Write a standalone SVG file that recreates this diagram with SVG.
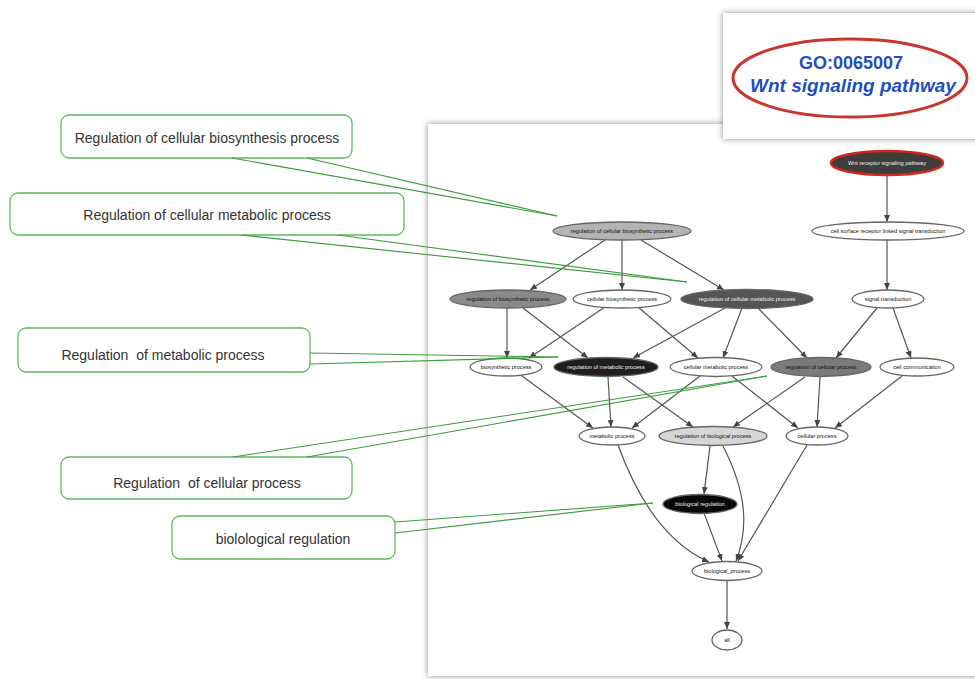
<svg xmlns="http://www.w3.org/2000/svg" width="975" height="679" viewBox="0 0 975 679">
<defs>
<filter id="shadow" x="-10%" y="-10%" width="120%" height="120%">
<feDropShadow dx="0" dy="0" stdDeviation="3" flood-color="#000" flood-opacity="0.45"/>
</filter>
<marker id="arr" markerUnits="userSpaceOnUse" markerWidth="7" markerHeight="6" refX="7" refY="3" orient="auto">
<path d="M0,0 L7,3 L0,6 z" fill="#444"/>
</marker>
<style>
.callout{fill:#fff;stroke:#62b862;stroke-width:1.3}
.tail{stroke:#3c9c3c;stroke-width:1.1;fill:none}
.ctext{font-family:"Liberation Sans",Arial,sans-serif;font-size:14px;fill:#333;text-anchor:middle;white-space:pre}
.edge{stroke:#555;stroke-width:1.2;fill:none;marker-end:url(#arr)}
.node{stroke:#666;stroke-width:1.3}
.ntext{font-family:"Liberation Sans",Arial,sans-serif;font-size:5.6px;text-anchor:middle}
.w{fill:#fff}
.dk{fill:#111}
.lt{fill:#eee}
</style>
</defs>
<rect x="0" y="0" width="975" height="679" fill="#fff"/>

<!-- main panel -->
<rect id="panel" x="428" y="124" width="560" height="552" fill="#fff" filter="url(#shadow)"/>

<!-- GO box -->
<g id="go-box">
<rect x="723" y="13" width="262" height="126" fill="#fff" filter="url(#shadow)"/>
<ellipse cx="850" cy="78" rx="117" ry="39" fill="#fff" stroke="#c8372d" stroke-width="3"/>
<text x="851" y="69" font-family="'Liberation Sans',Arial,sans-serif" font-size="18" font-weight="bold" fill="#1f4fbf" text-anchor="middle">GO:0065007</text>
<text x="853" y="92" font-family="'Liberation Sans',Arial,sans-serif" font-size="19" font-weight="bold" font-style="italic" fill="#1f4fbf" text-anchor="middle">Wnt signaling pathway</text>
</g>

<!-- connectors -->
<g id="connectors">
<line class="edge" x1="887" y1="175" x2="887" y2="222"/>
<line class="edge" x1="887" y1="240" x2="887" y2="290"/>
<line class="edge" x1="605" y1="240" x2="530" y2="290"/>
<line class="edge" x1="622" y1="240" x2="622" y2="290"/>
<line class="edge" x1="641" y1="240" x2="724" y2="290"/>
<line class="edge" x1="507" y1="308" x2="507" y2="358"/>
<line class="edge" x1="523" y1="308" x2="588" y2="358"/>
<line class="edge" x1="605" y1="307" x2="529" y2="358"/>
<line class="edge" x1="638" y1="307" x2="698" y2="358"/>
<line class="edge" x1="725" y1="308" x2="633" y2="358"/>
<line class="edge" x1="742" y1="308" x2="723" y2="358"/>
<line class="edge" x1="758" y1="308" x2="807" y2="358"/>
<line class="edge" x1="877" y1="308" x2="836" y2="358"/>
<line class="edge" x1="893" y1="308" x2="911" y2="358"/>
<line class="edge" x1="522" y1="376" x2="593" y2="428"/>
<line class="edge" x1="608" y1="377" x2="611" y2="427"/>
<line class="edge" x1="623" y1="377" x2="693" y2="427"/>
<line class="edge" x1="700" y1="376" x2="632" y2="428"/>
<line class="edge" x1="732" y1="376" x2="798" y2="428"/>
<line class="edge" x1="805" y1="377" x2="733" y2="427"/>
<line class="edge" x1="820" y1="377" x2="817" y2="427"/>
<line class="edge" x1="902" y1="376" x2="835" y2="428"/>
<line class="edge" x1="710" y1="446" x2="704" y2="494"/>
<path class="edge" d="M723,446 C748,495 748,530 736,561"/>
<path class="edge" d="M618,445 C640,505 670,545 709,562"/>
<line class="edge" x1="807" y1="445" x2="738" y2="561"/>
<line class="edge" x1="704" y1="513" x2="722" y2="561"/>
<line class="edge" x1="727" y1="581" x2="727" y2="629"/>
</g>

<!-- graph nodes -->
<g id="n-wnt"><ellipse cx="887" cy="163" rx="56" ry="12" fill="#3d3d3d" stroke="#d0281c" stroke-width="2.5"/><text class="ntext lt" x="887" y="165">Wnt receptor signaling pathway</text></g>
<g id="n-cell-surface"><ellipse class="node" cx="888" cy="231" rx="76" ry="9" fill="#fff"/><text class="ntext dk" x="888" y="233">cell surface receptor linked signal transduction</text></g>
<g id="n-signal"><ellipse class="node" cx="888" cy="299" rx="36" ry="9" fill="#fff"/><text class="ntext dk" x="888" y="301">signal transduction</text></g>
<g id="n-reg-cell-biosyn"><ellipse class="node" cx="622" cy="231" rx="69" ry="9" fill="#b4b4b4"/><text class="ntext dk" x="622" y="233">regulation of cellular biosynthetic process</text></g>
<g id="n-reg-biosyn"><ellipse class="node" cx="508" cy="299" rx="58" ry="9" fill="#8a8a8a"/><text class="ntext dk" x="508" y="301">regulation of biosynthetic process</text></g>
<g id="n-cell-biosyn"><ellipse class="node" cx="622" cy="299" rx="49" ry="9" fill="#fff"/><text class="ntext dk" x="622" y="301">cellular biosynthetic process</text></g>
<g id="n-reg-cell-metab"><ellipse class="node" cx="747" cy="299" rx="66" ry="9.5" fill="#555"/><text class="ntext lt" x="747" y="301">regulation of cellular metabolic process</text></g>
<g id="n-biosyn"><ellipse class="node" cx="506" cy="367" rx="36" ry="9" fill="#fff"/><text class="ntext dk" x="506" y="369">biosynthetic process</text></g>
<g id="n-reg-metab"><ellipse class="node" cx="606" cy="367" rx="52" ry="9.5" fill="#1e1e1e"/><text class="ntext lt" x="606" y="369">regulation of metabolic process</text></g>
<g id="n-cell-metab"><ellipse class="node" cx="716" cy="367" rx="46" ry="9.5" fill="#fff"/><text class="ntext dk" x="716" y="369">cellular metabolic process</text></g>
<g id="n-reg-cell-proc"><ellipse class="node" cx="821" cy="367" rx="50" ry="9.5" fill="#7a7a7a"/><text class="ntext dk" x="821" y="369">regulation of cellular process</text></g>
<g id="n-cell-comm"><ellipse class="node" cx="917" cy="367" rx="37" ry="9" fill="#fff"/><text class="ntext dk" x="917" y="369">cell communication</text></g>
<g id="n-metab"><ellipse class="node" cx="612" cy="436" rx="33" ry="9" fill="#fff"/><text class="ntext dk" x="612" y="438">metabolic process</text></g>
<g id="n-reg-bio"><ellipse class="node" cx="713" cy="436" rx="54" ry="9.5" fill="#d6d6d6"/><text class="ntext dk" x="713" y="438">regulation of biological process</text></g>
<g id="n-cell-proc"><ellipse class="node" cx="817" cy="436" rx="31" ry="9" fill="#fff"/><text class="ntext dk" x="817" y="438">cellular process</text></g>
<g id="n-bio-reg"><ellipse class="node" cx="700" cy="504" rx="37" ry="9.5" fill="#080808"/><text class="ntext lt" x="700" y="506">biological regulation</text></g>
<g id="n-bio-proc"><ellipse class="node" cx="727" cy="571" rx="35" ry="9.5" fill="#fff"/><text class="ntext dk" x="727" y="573">biological_process</text></g>
<g id="n-all"><ellipse class="node" cx="727" cy="640" rx="15" ry="10" fill="#fff"/><text class="ntext dk" x="727" y="642">all</text></g>

<!-- callouts -->
<g id="c-biosyn">
<rect class="callout" x="61" y="115" width="291" height="43" rx="8"/>
<line class="tail" x1="232" y1="158" x2="557" y2="216"/>
<line class="tail" x1="307" y1="158" x2="557" y2="216"/>
<text class="ctext" x="207" y="143">Regulation of cellular biosynthesis process</text>
</g>
<g id="c-cell-metab">
<rect class="callout" x="10" y="193" width="394" height="42" rx="8"/>
<line class="tail" x1="241" y1="235" x2="687" y2="282"/>
<line class="tail" x1="338" y1="235" x2="687" y2="282"/>
<text class="ctext" x="207" y="220">Regulation of cellular metabolic process</text>
</g>
<g id="c-metab">
<rect class="callout" x="18" y="328" width="292" height="44" rx="8"/>
<line class="tail" x1="310" y1="353" x2="558" y2="357"/>
<line class="tail" x1="310" y1="364" x2="558" y2="357"/>
<text class="ctext" x="163" y="360">Regulation  of metabolic process</text>
</g>
<g id="c-cell-proc">
<rect class="callout" x="61" y="457" width="291" height="42" rx="8"/>
<line class="tail" x1="233" y1="457" x2="767" y2="376"/>
<line class="tail" x1="307" y1="457" x2="767" y2="376"/>
<text class="ctext" x="207" y="488">Regulation  of cellular process</text>
</g>
<g id="c-bio-reg">
<rect class="callout" x="172" y="516" width="223" height="43" rx="8"/>
<line class="tail" x1="395" y1="522" x2="653" y2="503"/>
<line class="tail" x1="395" y1="533" x2="653" y2="503"/>
<text class="ctext" x="283" y="544">biolological regulation</text>
</g>
</svg>
